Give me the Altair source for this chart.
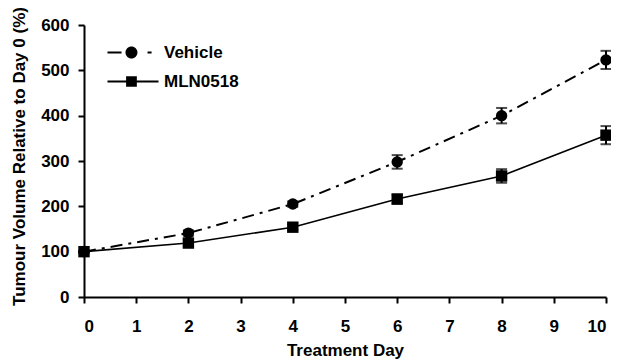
import altair as alt
import pandas as pd

days = [0, 2, 4, 6, 8, 10]
vehicle = [100, 141, 205, 298, 400, 523]
vehicle_err = [0, 6, 6, 15, 17, 20]
mln = [100, 119, 154, 216, 267, 357]
mln_err = [0, 8, 6, 10, 15, 20]
series_names = ["Vehicle", "MLN0518"]
x_ticks = list(range(0, 11))
y_ticks = [0, 100, 200, 300, 400, 500, 600]

rows = []
for d, v, e in zip(days, vehicle, vehicle_err):
    rows.append({"day": d, "value": v, "lo": v - e, "hi": v + e, "series": "Vehicle"})
for d, v, e in zip(days, mln, mln_err):
    rows.append({"day": d, "value": v, "lo": v - e, "hi": v + e, "series": "MLN0518"})
df = pd.DataFrame(rows)

FONT = "Liberation Sans"
x = alt.X("day:Q", scale=alt.Scale(domain=[0, 10], nice=False),
          axis=alt.Axis(values=x_ticks, title="Treatment Day", format="d"))
y = alt.Y("value:Q", scale=alt.Scale(domain=[0, 600], nice=False),
          axis=alt.Axis(values=y_ticks, title="Tumour Volume Relative to Day 0 (%)"))

base = alt.Chart(df)

veh = base.transform_filter(alt.datum.series == "Vehicle")
mlnc = base.transform_filter(alt.datum.series == "MLN0518")

veh_line = veh.mark_line(color="black", strokeWidth=2, strokeDash=[12, 6, 3, 6]).encode(x=x, y=y)
mln_line = mlnc.mark_line(color="black", strokeWidth=1.6).encode(x=x, y=y)

err_rule = base.mark_rule(color="black", strokeWidth=2).encode(
    x="day:Q", y="lo:Q", y2="hi:Q")
cap_hi = base.mark_tick(color="black", thickness=2, size=11, orient="horizontal").encode(
    x="day:Q", y="hi:Q")
cap_lo = base.mark_tick(color="black", thickness=2, size=11, orient="horizontal").encode(
    x="day:Q", y="lo:Q")

veh_pts = veh.mark_point(shape="circle", filled=True, color="black", opacity=1, size=130).encode(x=x, y=y)
mln_pts = mlnc.mark_point(shape="square", filled=True, color="black", opacity=1, size=130).encode(x=x, y=y)

# legend glyphs (unit = 6 px): all parts filled, line segments as thin rectangles
circ_path = ("M-4.25,-0.17H-1.91V0.17H-4.25Z "
             "M-1.255,0A1,1 0 1,0 0.745,0A1,1 0 1,0 -1.255,0Z "
             "M2.42,-0.17H3.1V0.17H2.42Z")
sq_path = ("M-4.25,-0.15H4.25V0.15H-4.25Z "
           "M-1.15,-0.89H0.64V0.89H-1.15Z")

legend_layer = base.mark_point(opacity=0, filled=True, color="black").encode(
    x=x, y=y,
    shape=alt.Shape("series:N",
                    scale=alt.Scale(domain=series_names, range=[circ_path, sq_path]),
                    legend=alt.Legend(title=None, orient="none", legendX=40.5, legendY=19,
                                      symbolSize=144, symbolStrokeWidth=0,
                                      symbolFillColor="black", symbolStrokeColor="black",
                                      symbolOpacity=1, labelFont=FONT, labelFontSize=17,
                                      labelFontWeight="bold", labelColor="black",
                                      labelOffset=22.5, rowPadding=11)),
)

chart = alt.layer(
    legend_layer, mln_line, veh_line, err_rule, cap_hi, cap_lo, veh_pts, mln_pts
).properties(
    width=522, height=272,
    autosize=alt.AutoSizeParams(type="none"),
    padding={"left": 76, "top": 17, "right": 5, "bottom": 67},
).configure_view(stroke=None).configure_axis(
    grid=False, domainColor="black", domainWidth=2, tickColor="black", tickWidth=2,
    tickSize=6, labelFont=FONT, labelFontSize=17, labelFontWeight="bold",
    labelColor="black", titleFont=FONT, titleFontWeight="bold", titleColor="black",
).configure_axisX(labelPadding=15, titlePadding=8, titleFontSize=17).configure_axisY(
    labelPadding=9, titlePadding=12, titleFontSize=17, titleY=131)

chart.save("out.html", embed_options={"renderer": "svg", "actions": False})
